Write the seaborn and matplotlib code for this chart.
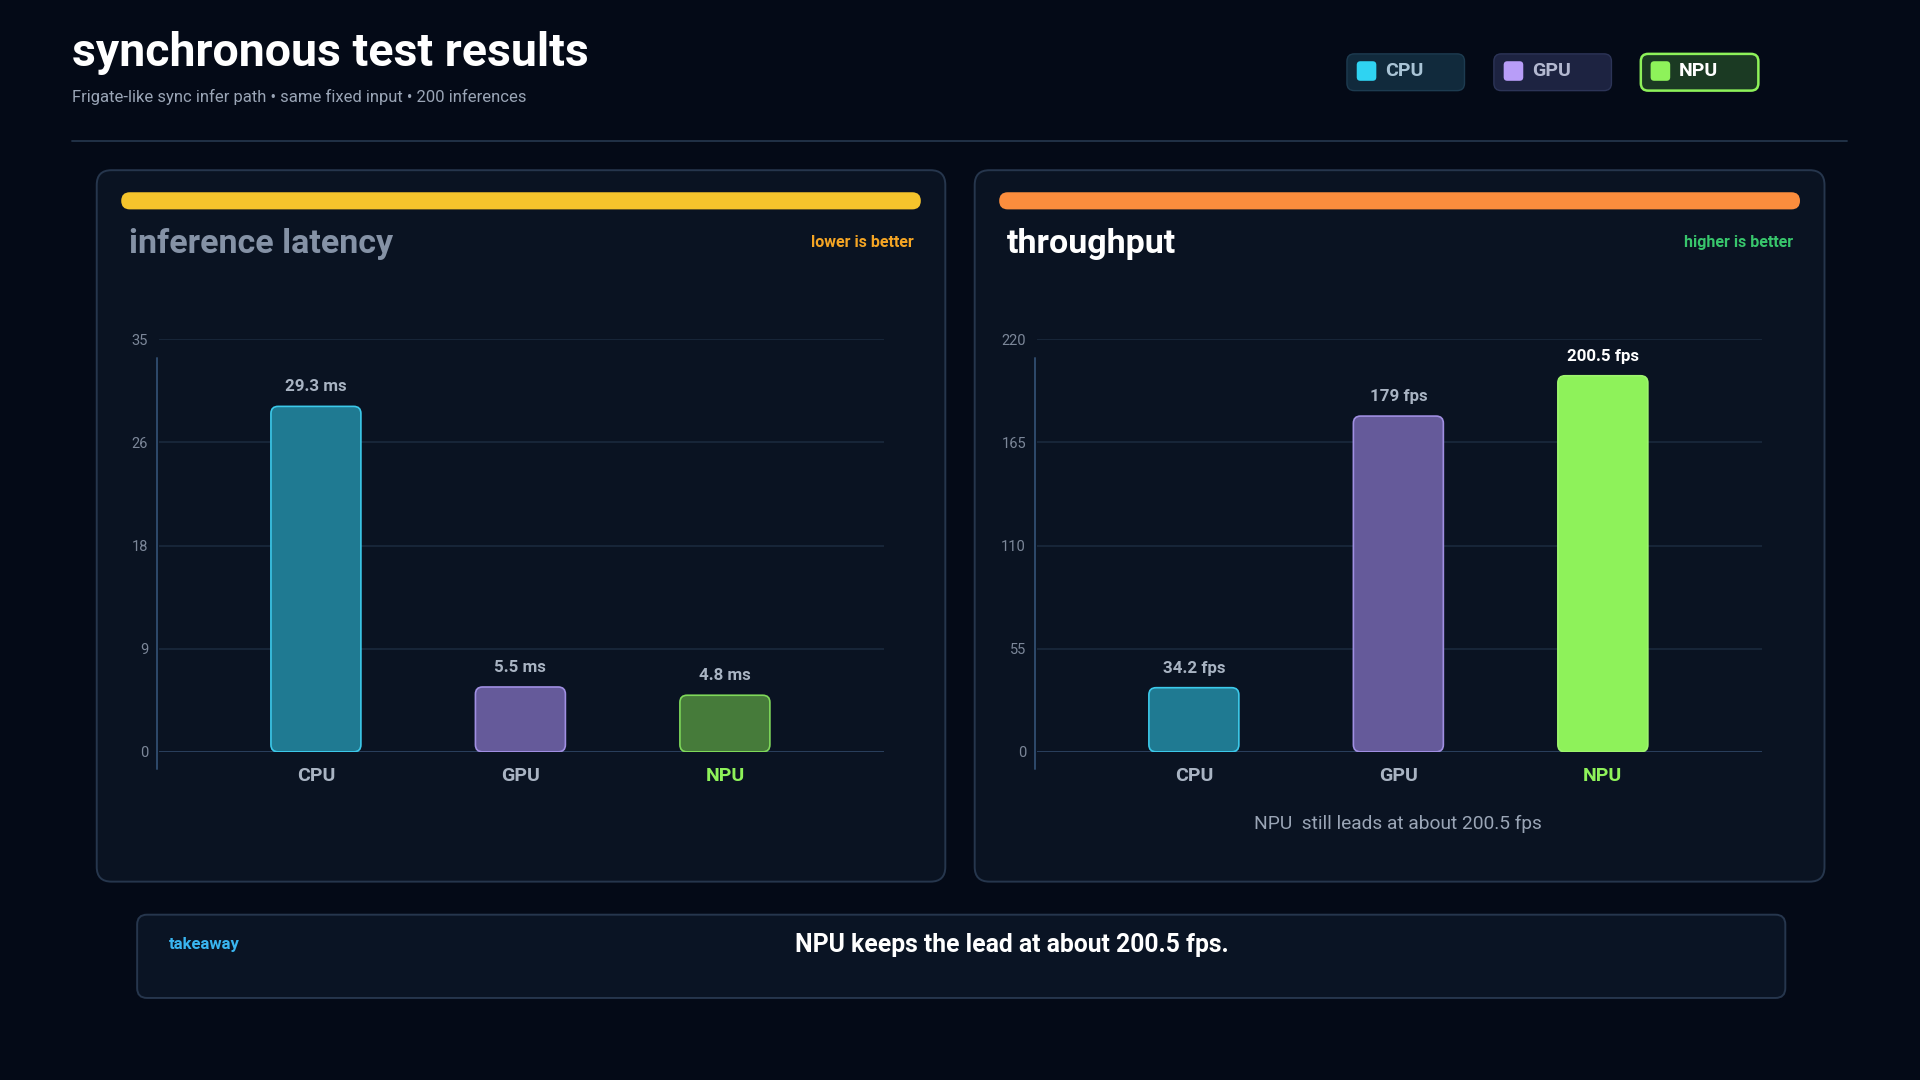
import numpy as np
import pandas as pd
import seaborn as sns
import matplotlib.pyplot as plt
from matplotlib.patches import FancyBboxPatch

sns.set_theme(style="dark")
plt.rcParams["font.family"] = ["Roboto", "DejaVu Sans"]

# data
devices = ["CPU", "GPU", "NPU"]
latency_ms = [29.3, 5.5, 4.8]
throughput_fps = [34.2, 179, 200.5]
latency_ticks = [0, 8.75, 17.5, 26.25, 35]
latency_ticklabels = ["0", "9", "18", "26", "35"]
fps_ticks = [0, 55, 110, 165, 220]
fps_ticklabels = ["0", "55", "110", "165", "220"]

BG = "#040a17"
PANEL = "#0a1322"
EDGE = "#26364d"
GRID = "#1c2b40"
TXT = "#a9b4c3"
MUTED = "#8592a6"

W, H = 1568, 882  # layout units (reference pixels)

fig = plt.figure(figsize=(19.2, 10.8), dpi=100, facecolor=BG)
bg = fig.add_axes([0, 0, 1, 1], zorder=-1)
bg.set_xlim(0, W)
bg.set_ylim(H, 0)
bg.axis("off")


def rbox(x0, y0, x1, y1, fc, ec="none", lw=1.2, r=8, z=1):
    bg.add_patch(FancyBboxPatch((x0, y0), x1 - x0, y1 - y0,
                                boxstyle=f"round,pad=0,rounding_size={r}",
                                fc=fc, ec=ec, lw=lw, zorder=z))


# header
bg.text(59, 43, "synchronous test results", color="white", fontsize=33.5,
        fontweight="bold", va="center", ha="left")
bg.text(59, 79, "Frigate-like sync infer path \u2022 same fixed input \u2022 200 inferences",
        color="#9aa5b6", fontsize=12, va="center", ha="left")
bg.plot([59, 1508], [115, 115], color="#24354b", lw=1.3)

# legend pills
pills = [("CPU", 1100, "#112a3c", "#1d3b50", "#2fd3f2", "#a9c4d6"),
         ("GPU", 1220, "#1d2341", "#2c3457", "#b89df8", "#b3b8d0"),
         ("NPU", 1340, "#1b3a23", "#8ef25a", "#8ef25a", "white")]
for name, px, fc, ec, sw, tc in pills:
    rbox(px, 44, px + 96, 74, fc, ec, lw=1.8 if name == "NPU" else 1.0, r=6, z=2)
    rbox(px + 8, 50, px + 24, 66, sw, r=3, z=3)
    bg.text(px + 31, 58, name, color=tc, fontsize=14, fontweight="bold",
            va="center", ha="left", zorder=4)

# panels
panels = [(79, 772, "#f5c42c", "inference latency", MUTED, "lower is better", "#f5a524"),
          (796, 1490, "#fb8d3d", "throughput", "white", "higher is better", "#38c66c")]
for x0, x1, bar, title, tcol, hint, hcol in panels:
    rbox(x0, 139, x1, 720, PANEL, EDGE, lw=1.4, r=12, z=1)
    rbox(x0 + 20, 157, x1 - 20, 171, bar, r=7, z=2)
    bg.text(x0 + 26, 199, title, color=tcol, fontsize=24.5, fontweight="bold",
            va="center", ha="left", zorder=3)
    bg.text(x1 - 26, 198, hint, color=hcol, fontsize=11.5, fontweight="bold",
            va="center", ha="right", zorder=3)

bg.text(1142, 673, "NPU  still leads at about 200.5 fps", color="#9aa5b6",
        fontsize=13.8, va="center", ha="center", zorder=3)

# takeaway
rbox(112, 747, 1458, 815, "#0a1424", EDGE, lw=1.4, r=8, z=1)
bg.text(138, 771, "takeaway", color="#39b5f0", fontsize=12, fontweight="bold",
        va="center", ha="left", zorder=3)
bg.text(826, 772, "NPU keeps the lead at about 200.5 fps.", color="white",
        fontsize=17.8, fontweight="bold", va="center", ha="center", zorder=3)


def chart(left_px, values, ticks, ticklabels, ymax, unit, fills, edges, label_colors, tick_colors):
    ax_l, ax_r, ax_t, ax_b = left_px, left_px + 592, 277, 614
    ax = fig.add_axes([ax_l / W, 1 - ax_b / H, (ax_r - ax_l) / W, (ax_b - ax_t) / H], zorder=2)
    ax.set_facecolor("none")
    df = pd.DataFrame({"device": devices, "value": values})
    sns.barplot(data=df, x="device", y="value", hue="device", palette=fills,
                saturation=1, width=0.44, legend=False, ax=ax, zorder=3)
    ax.set_xlim(-128 / 167, 464 / 167)
    ax.set_ylim(0, ymax)
    ax.set_yticks(ticks)
    ax.set_yticklabels(ticklabels, color="#7c8799", fontsize=10.5)
    ax.tick_params(axis="y", length=0, pad=8)
    ax.tick_params(axis="x", length=0, pad=11)
    ax.grid(axis="y", color=GRID, lw=1.1)
    ax.grid(axis="x", visible=False)
    ax.axhline(0, color="#2a3f5c", lw=1.4, zorder=2)
    for s in ax.spines.values():
        s.set_visible(False)
    ax.plot([-2 / 592, -2 / 592], [-14 / 337, 322 / 337], transform=ax.transAxes,
            color="#2f4a6c", lw=1.4, clip_on=False)
    ax.set_xlabel("")
    ax.set_ylabel("")
    for lab, c in zip(ax.get_xticklabels(), tick_colors):
        lab.set_color(c)
        lab.set_fontweight("bold")
        lab.set_fontsize(14)
    # rounded bars
    asp = (ymax / 337) / (1 / 167)
    for p, ec, v, lc in zip(list(ax.patches), edges, values, label_colors):
        x, y, w, h = p.get_x(), p.get_y(), p.get_width(), p.get_height()
        fc = p.get_facecolor()
        p.remove()
        ax.add_patch(FancyBboxPatch((x, y), w, h,
                                    boxstyle="round,pad=0,rounding_size=0.035",
                                    mutation_aspect=asp, fc=fc, ec=ec, lw=1.2, zorder=3))
        txt = f"{v:g} {unit}"
        ax.text(x + w / 2, h + 16 * ymax / 337, txt, color=lc, fontsize=12.2,
                fontweight="bold", ha="center", va="center", zorder=4)
    return ax


chart(130, latency_ms, latency_ticks, latency_ticklabels, 35, "ms",
      ["#1f7a92", "#655a9a", "#467b3a"], ["#3cc9ea", "#a08fe2", "#7fd95a"],
      [TXT, TXT, TXT], [TXT, TXT, "#8ef25a"])
chart(847, throughput_fps, fps_ticks, fps_ticklabels, 220, "fps",
      ["#1f7a92", "#655a9a", "#8ef25a"], ["#3cc9ea", "#a08fe2", "#9ef56e"],
      [TXT, TXT, "white"], [TXT, TXT, "#8ef25a"])

fig.savefig("out.png", dpi=100, facecolor=BG)
